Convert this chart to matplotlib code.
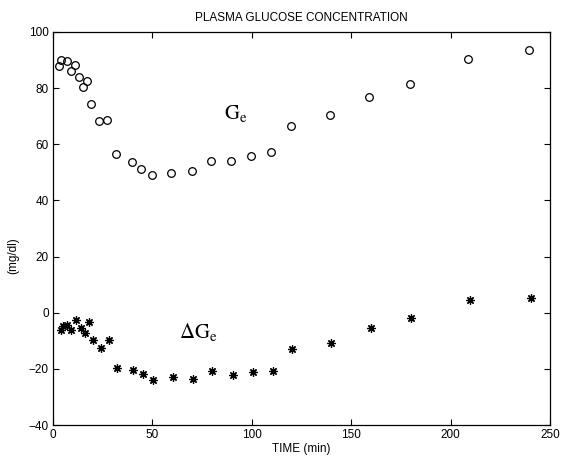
"""Plasma glucose concentration: Ge and delta Ge over time."""

import matplotlib

matplotlib.use("Agg")
import matplotlib.pyplot as plt

# G_e (open circles)
ge_time = [3, 4, 7, 9, 11, 13, 15, 17, 19, 23, 27, 31.5, 39.5, 44.5, 49.6, 59.6, 69.7,
           79.7, 89.7, 99.8, 109.5, 119.6, 139.4, 159.1, 179.4, 209, 239.2]
ge_vals = [88.0, 89.9, 89.7, 86.2, 88.1, 84.0, 80.4, 82.4, 74.4, 68.3, 68.7, 56.6, 53.6,
           51.1, 49.0, 49.7, 50.4, 54.1, 54.1, 55.9, 57.4, 66.5, 70.5, 76.9, 81.6, 90.4, 93.6]

# delta G_e (asterisks)
dge_time = [3.9, 4.9, 6.9, 8.9, 11.6, 13.9, 15.9, 17.9, 20.3, 24, 28, 32, 40.4, 45.4,
            50.4, 60.5, 70.2, 80.2, 90.3, 100.7, 110.7, 120.4, 140, 160.2, 180.3, 210, 240.2]
dge_vals = [-6.0, -4.6, -4.2, -6.0, -2.7, -5.6, -7.2, -3.4, -9.8, -12.6, -9.6, -19.7,
            -20.3, -21.8, -23.8, -23.0, -23.5, -20.9, -22.1, -21.1, -20.9, -12.8, -10.8,
            -5.4, -1.8, 4.4, 5.1]

x_ticks = [0, 50, 100, 150, 200, 250]
y_ticks = [-40, -20, 0, 20, 40, 60, 80, 100]

plt.rcParams["font.family"] = ["Liberation Sans", "DejaVu Sans"]
plt.rcParams["mathtext.fontset"] = "stix"

fig = plt.figure(figsize=(5.73, 4.57), dpi=100)
ax = fig.add_axes([53 / 573, 1 - 425 / 457, 497 / 573, 393 / 457])

ax.plot(ge_time, ge_vals, linestyle="none", marker="o", markersize=5.5,
        markerfacecolor="none", markeredgecolor="black", markeredgewidth=0.9)
ax.plot(dge_time, dge_vals, linestyle="none", marker=(8, 2, 0), markersize=6,
        color="black", markeredgewidth=0.9)

ax.text(92, 71, r"$\mathrm{G_e}$", fontsize=15, ha="center", va="center")
ax.text(73, -6.7, r"$\Delta\mathrm{G_e}$", fontsize=15, ha="center", va="center")

ax.set_xlim(0, 250)
ax.set_ylim(-40, 100)
ax.set_xticks(x_ticks)
ax.set_yticks(y_ticks)
ax.tick_params(direction="in", top=True, right=True, length=4, width=0.8,
               labelsize=8.5, pad=3)
for spine in ax.spines.values():
    spine.set_linewidth(0.9)

ax.set_title("PLASMA GLUCOSE CONCENTRATION", fontsize=8.5, pad=8)
ax.set_xlabel("TIME (min)", fontsize=8.5, labelpad=1)
ax.set_ylabel("(mg/dl)", fontsize=8.5)
ax.yaxis.set_label_coords(-0.068, 0.43)

fig.savefig("out.png", dpi=100)
